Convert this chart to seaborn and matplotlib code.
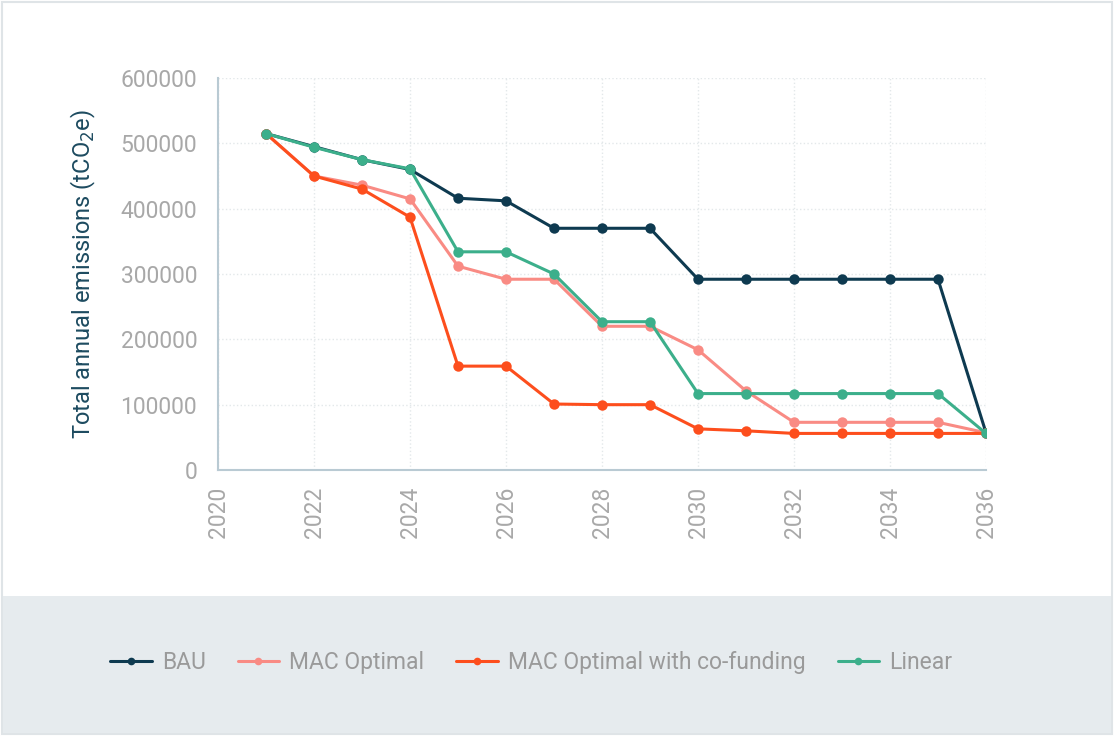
import pandas as pd
import numpy as np
import matplotlib
matplotlib.use('Agg')
import matplotlib.pyplot as plt
from matplotlib.patches import Rectangle
import seaborn as sns

years = list(range(2021, 2037))
bau = [515000, 495000, 475000, 460000, 416000, 412000, 370000, 370000,
       370000, 292000, 292000, 292000, 292000, 292000, 292000, 57000]
mac_optimal = [515000, 450000, 436000, 415000, 312000, 292000, 292000, 220000,
               220000, 184000, 121000, 73000, 73000, 73000, 73000, 57000]
mac_cofunding = [515000, 450000, 430000, 387000, 159000, 159000, 101000, 100000,
                 100000, 63000, 60000, 56000, 56000, 56000, 56000, 56000]
linear = [515000, 494000, 475000, 461000, 334000, 334000, 300000, 227000,
          227000, 117000, 117000, 117000, 117000, 117000, 117000, 56000]

series_names = ['BAU', 'MAC Optimal', 'MAC Optimal with co-funding', 'Linear']
colors = ['#0e3a50', '#f98b84', '#fd4e1d', '#3caf8b']

df = pd.concat([
    pd.DataFrame({'year': years, 'emissions': vals, 'series': name})
    for name, vals in zip(series_names, [bau, mac_optimal, mac_cofunding, linear])
], ignore_index=True)

sns.set_style('white')
plt.rcParams['font.family'] = ['Roboto', 'DejaVu Sans']

fig = plt.figure(figsize=(11.14, 7.36), dpi=100)
fig.patch.set_facecolor('white')

# card border and grey legend band
fig.add_artist(Rectangle((0.002, 0.003), 0.996, 0.994, transform=fig.transFigure,
                         facecolor='white', edgecolor='#dfe4e7', linewidth=1.5, zorder=-2))
fig.add_artist(Rectangle((0.003, 0.004), 0.994, 0.186, transform=fig.transFigure,
                         facecolor='#e6ebee', edgecolor='none', zorder=-1))

ax = fig.add_axes([0.1957, 0.3614, 0.6894, 0.5326])
sns.lineplot(data=df, x='year', y='emissions', hue='series', hue_order=series_names,
             palette=colors, marker='o', markersize=7.5, markeredgewidth=0,
             linewidth=2.2, ax=ax, legend=True)

ax.set_xlim(2020, 2036)
ax.set_ylim(0, 600000)
ax.set_xticks(range(2020, 2037, 2))
ax.set_yticks(range(0, 600001, 100000))
ax.grid(True, linestyle=':', color='#e3e8ea', linewidth=1)
ax.set_axisbelow(True)

for s in ['top', 'right']:
    ax.spines[s].set_visible(False)
for s in ['left', 'bottom']:
    ax.spines[s].set_color('#b9cad3')
    ax.spines[s].set_linewidth(1.5)

ax.tick_params(axis='both', length=0, labelsize=16.5, labelcolor='#a8a8a8')
ax.tick_params(axis='y', pad=15)
ax.tick_params(axis='x', pad=12)
plt.setp(ax.get_xticklabels(), rotation=90)
ax.set_xlabel('')
ax.set_ylabel('Total annual emissions (tCO$_2$e)', fontsize=17, color='#1d4b60', labelpad=16)

handles, labels = ax.get_legend_handles_labels()
ax.get_legend().remove()
leg = fig.legend(handles, labels, loc='center', bbox_to_anchor=(0.477, 0.1), ncol=4,
                 frameon=False, fontsize=16.5, handlelength=1.8, columnspacing=1.4,
                 handletextpad=0.45)
for t in leg.get_texts():
    t.set_color('#9a9a9a')
for h in leg.legend_handles:
    h.set_markersize(5.5)

fig.savefig('out.png', dpi=100)
